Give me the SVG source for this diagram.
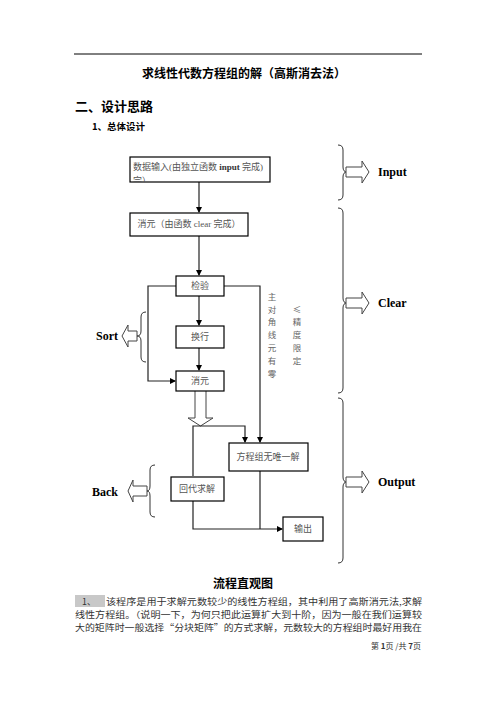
<svg xmlns="http://www.w3.org/2000/svg" width="496" height="702" viewBox="0 0 496 702">
<defs>
<style>
.cn{font-family:"Noto Sans CJK SC","Liberation Serif",serif;}
.box{fill:#fff;stroke:#000;stroke-width:1.2;}
.bt{font-family:"Liberation Serif","Noto Sans CJK SC",serif;font-size:9px;fill:#555;}
.ln{fill:none;stroke:#222;stroke-width:1.2;}
.br{fill:none;stroke:#333;stroke-width:1;}
.ha{fill:#fff;stroke:#444;stroke-width:1;}
.lab{font-family:"Liberation Serif",serif;font-weight:bold;font-size:12px;fill:#000;}
.vt{font-family:"Noto Sans CJK SC",sans-serif;font-size:8.5px;fill:#666;}
.body{font-family:"Noto Sans CJK SC",sans-serif;font-size:8.8px;fill:#333;}
</style>
<marker id="ah" markerWidth="6" markerHeight="6" refX="5" refY="3" orient="auto" markerUnits="userSpaceOnUse">
<path d="M0,0 L6,3 L0,6 Z" fill="#000"/>
</marker>
<clipPath id="c1"><rect x="130" y="157" width="140" height="25"/></clipPath>
</defs>
<rect width="496" height="702" fill="#fff"/>
<line x1="74" y1="54" x2="422" y2="54" stroke="#000" stroke-width="1"/>
<text x="244" y="78" text-anchor="middle" class="cn" font-size="12" font-weight="bold">求线性代数方程组的解（高斯消去法）</text>
<text x="75" y="111" class="cn" font-size="13" font-weight="bold">二、设计思路</text>
<text x="92" y="130" class="cn" font-size="9.5" font-weight="bold">1、总体设计</text>

<g id="connectors">
<line class="ln" x1="199" y1="182" x2="199" y2="212" marker-end="url(#ah)"/>
<line class="ln" x1="199" y1="236" x2="199" y2="275" marker-end="url(#ah)"/>
<line class="ln" x1="199" y1="296" x2="199" y2="325" marker-end="url(#ah)"/>
<line class="ln" x1="199" y1="348" x2="199" y2="370" marker-end="url(#ah)"/>
<polyline class="ln" points="176,286 148,286 148,381 175,381" marker-end="url(#ah)"/>
<polyline class="ln" points="224,286 260,286 260,442" marker-end="url(#ah)"/>
<path class="ha" d="M195,391 V418 H188 L200.5,426 L213,418 H206 V391"/>
<polyline class="ln" points="193,476 193,426 245,426 245,442" marker-end="url(#ah)"/>
<polyline class="ln" points="193,501 193,529 282,529" marker-end="url(#ah)"/>
<line class="ln" x1="260" y1="471" x2="260" y2="529"/>
</g>

<g id="n_input"><rect class="box" x="130" y="157" width="140" height="25"/>
<g clip-path="url(#c1)"><text class="bt" x="133" y="170">数据输入(由独立函数 <tspan font-weight="bold" fill="#333">input</tspan> 完成)</text><text class="bt" x="133" y="184">完）</text></g></g>
<g id="n_clear"><rect class="box" x="130" y="213" width="118" height="23"/><text class="bt" x="189" y="227" text-anchor="middle">消元（由函数 clear 完成）</text></g>
<g id="n_check"><rect class="box" x="176" y="276" width="48" height="20"/><text class="bt" x="200" y="289" text-anchor="middle">检验</text></g>
<g id="n_swap"><rect class="box" x="176" y="326" width="48" height="22"/><text class="bt" x="200" y="340" text-anchor="middle">换行</text></g>
<g id="n_elim"><rect class="box" x="176" y="371" width="48" height="20"/><text class="bt" x="200" y="384" text-anchor="middle">消元</text></g>
<g id="n_nounique"><rect class="box" x="229" y="443" width="79" height="28"/><text class="bt" x="268" y="460" text-anchor="middle">方程组无唯一解</text></g>
<g id="n_back"><rect class="box" x="171" y="477" width="53" height="24"/><text class="bt" x="197" y="492" text-anchor="middle">回代求解</text></g>
<g id="n_out"><rect class="box" x="283" y="517" width="40" height="24"/><text class="bt" x="303" y="532" text-anchor="middle">输出</text></g>

<g id="cond">
<text class="vt" x="272" y="300" text-anchor="middle">主</text>
<text class="vt" x="272" y="313" text-anchor="middle">对</text>
<text class="vt" x="272" y="325" text-anchor="middle">角</text>
<text class="vt" x="272" y="338" text-anchor="middle">线</text>
<text class="vt" x="272" y="351" text-anchor="middle">元</text>
<text class="vt" x="272" y="364" text-anchor="middle">有</text>
<text class="vt" x="272" y="377" text-anchor="middle">零</text>
<text class="vt" x="297" y="313" text-anchor="middle">≤</text>
<text class="vt" x="297" y="325" text-anchor="middle">精</text>
<text class="vt" x="297" y="338" text-anchor="middle">度</text>
<text class="vt" x="297" y="351" text-anchor="middle">限</text>
<text class="vt" x="297" y="364" text-anchor="middle">定</text>
</g>

<g id="g_input">
<path class="br" d="M338,145 Q343,145 343,150 V167 Q343,172 347,172 Q343,172 343,177 V195 Q343,200 338,200"/>
<path class="ha" d="M346,167 H362 V161 L369,172 L362,183 V177 H346 Z"/>
<text class="lab" x="378" y="176">Input</text>
</g>
<g id="g_clear">
<path class="br" d="M338,208 Q343,208 343,213 V298 Q343,303 347,303 Q343,303 343,308 V388 Q343,393 338,393"/>
<path class="ha" d="M346,298 H362 V292 L369,303 L362,314 V308 H346 Z"/>
<text class="lab" x="378" y="307">Clear</text>
</g>
<g id="g_output">
<path class="br" d="M338,398 Q343,398 343,403 V477 Q343,482 347,482 Q343,482 343,487 V558 Q343,563 338,563"/>
<path class="ha" d="M346,477 H362 V471 L369,482 L362,493 V487 H346 Z"/>
<text class="lab" x="378" y="486">Output</text>
</g>
<g id="g_sort">
<path class="br" d="M146,312 Q141,312 141,317 V331 Q141,336 137,336 Q141,336 141,341 V357 Q141,362 146,362"/>
<path class="ha" d="M137,331 H128 V325 L122,336 L128,347 V341 H137 Z"/>
<text class="lab" x="96" y="340">Sort</text>
</g>
<g id="g_back">
<path class="br" d="M155,465 Q150,465 150,470 V486 Q150,491 147,491 Q150,491 150,496 V512 Q150,517 155,517"/>
<path class="ha" d="M147,486 H133 V480 L128,491 L133,502 V496 H147 Z"/>
<text class="lab" x="92" y="496">Back</text>
</g>

<text x="243" y="588" text-anchor="middle" class="cn" font-size="12" font-weight="bold">流程直观图</text>
<rect x="75" y="595" width="30" height="12" fill="#c8c8c8"/>
<text class="body" x="82" y="605">1、</text>
<text class="body" x="106" y="605" textLength="316" lengthAdjust="spacingAndGlyphs">该程序是用于求解元数较少的线性方程组，其中利用了高斯消元法,求解</text>
<text class="body" x="75" y="618" textLength="347" lengthAdjust="spacingAndGlyphs">线性方程组。（说明一下，为何只把此运算扩大到十阶，因为一般在我们运算较</text>
<text class="body" x="75" y="631" textLength="347" lengthAdjust="spacingAndGlyphs">大的矩阵时一般选择“分块矩阵”的方式求解，元数较大的方程组时最好用我在</text>
<text x="421" y="649" text-anchor="end" font-family="Noto Sans CJK SC,sans-serif" font-size="8" fill="#333">第 <tspan font-weight="bold">1</tspan>页 /共 <tspan font-weight="bold">7</tspan>页</text>
</svg>
